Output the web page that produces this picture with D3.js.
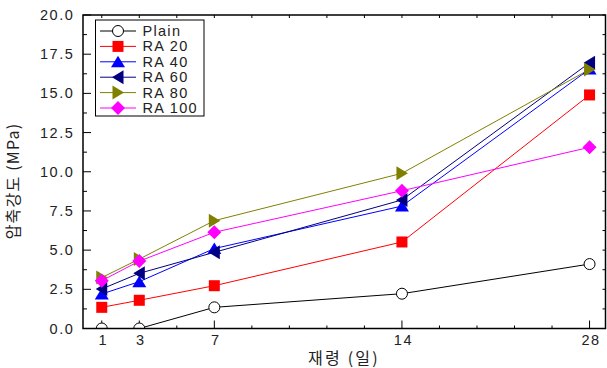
<!DOCTYPE html>
<html><head><meta charset="utf-8">
<script src="https://cdn.jsdelivr.net/npm/d3@7"></script>
<style>body{margin:0;background:#fff;}svg{display:block;}</style>
</head><body>
<svg id="c" width="607" height="368"></svg>
<script>
// categories (age in days) and their position on the drawn axis
const ageLabels = ["1", "3", "7", "14", "28"];
const agePositions = [1, 3, 7, 17, 27];
const yTickLabels = ["0.0","2.5","5.0","7.5","10.0","12.5","15.0","17.5","20.0"];
const seriesNames = ["Plain", "RA 20", "RA 40", "RA 60", "RA 80", "RA 100"];
const plain = [0, 0, 1.35, 2.22, 4.11];
const ra20  = [1.35, 1.8, 2.73, 5.52, 14.9];
const ra40  = [2.2, 2.99, 5.1, 7.81, 16.55];
const ra60  = [2.52, 3.52, 4.86, 8.2, 16.95];
const ra80  = [3.25, 4.43, 6.88, 9.9, 16.53];
const ra100 = [3.05, 4.3, 6.14, 8.79, 11.56];

const seriesValues = [plain, ra20, ra40, ra60, ra80, ra100];
const colors = ["#000000", "#ff0000", "#0000ff", "#000080", "#808000", "#ff00ff"];
const shapes = ["circle", "square", "up", "left", "right", "diamond"];

const svg = d3.select("#c");
const L = 83, R = 605.5, T = 15, B = 328.5;
const x = d3.scaleLinear().domain([0, 27.85]).range([L, R]);
const y = d3.scaleLinear().domain([0, 20]).range([B, T]);
const font = "'Liberation Sans', Arial, 'Noto Sans CJK KR', sans-serif";
const krFont = "'Noto Sans CJK KR', 'DejaVu Sans', sans-serif";

svg.append("defs").append("clipPath").attr("id", "clip")
  .append("rect").attr("x", L).attr("y", T).attr("width", R - L).attr("height", B - T);

// ticks
const g = svg.append("g").attr("stroke", "#000").attr("stroke-width", 1);
const minorX = d3.range(1, 28, 2);
minorX.forEach(v => {
  const major = agePositions.includes(v);
  g.append("line").attr("x1", x(v)).attr("x2", x(v)).attr("y1", B).attr("y2", B - (major ? 8 : 3));
  g.append("line").attr("x1", x(v)).attr("x2", x(v)).attr("y1", T).attr("y2", T + 3);
});
const yVals = d3.range(0, 20.01, 1.25);
yVals.forEach((v, i) => {
  const major = i % 2 === 0;
  g.append("line").attr("x1", L).attr("x2", L + (major ? 8 : 4)).attr("y1", y(v)).attr("y2", y(v));
  g.append("line").attr("x1", R).attr("x2", R - 3).attr("y1", y(v)).attr("y2", y(v));
});

// tick labels
yTickLabels.forEach((t, i) => {
  svg.append("text").attr("x", 74.5).attr("y", y(i * 2.5) + 5).attr("text-anchor", "end")
    .attr("font-family", font).attr("font-size", 14.5).attr("letter-spacing", 1.6).attr("fill", "#222").text(t);
});
ageLabels.forEach((t, i) => {
  svg.append("text").attr("x", x(agePositions[i]) + 1.5).attr("y", 345).attr("text-anchor", "middle")
    .attr("font-family", font).attr("font-size", 14.5).attr("letter-spacing", 1.6).attr("fill", "#222").text(t);
});

// axis titles
svg.append("text").attr("x", 344).attr("y", 364).attr("text-anchor", "middle")
  .attr("font-family", krFont).attr("font-size", 16).attr("letter-spacing", 2.2).attr("fill", "#222").text("재령 (일)");
svg.append("text").attr("transform", "translate(19,181) rotate(-90)").attr("text-anchor", "middle")
  .attr("font-family", krFont).attr("font-size", 16).attr("letter-spacing", 1.2).attr("fill", "#222").text("압축강도 (MPa)");

function drawMarker(sel, shape, color, cx, cy) {
  const s = 6;
  if (shape === "circle") {
    sel.append("circle").attr("cx", cx).attr("cy", cy).attr("r", 5.5).attr("fill", "#fff").attr("stroke", color).attr("stroke-width", 1);
  } else if (shape === "square") {
    sel.append("rect").attr("x", cx - 5.5).attr("y", cy - 5.5).attr("width", 11).attr("height", 11).attr("fill", color);
  } else {
    let pts;
    if (shape === "up") pts = [[0, -s], [s + 1, s - 0.5], [-s - 1, s - 0.5]];
    else if (shape === "left") pts = [[-s, 0], [s - 0.5, -s - 1], [s - 0.5, s + 1]];
    else if (shape === "right") pts = [[s, 0], [-s + 0.5, -s - 1], [-s + 0.5, s + 1]];
    else pts = [[0, -7], [7, 0], [0, 7], [-7, 0]];
    sel.append("polygon").attr("points", pts.map(p => [cx + p[0], cy + p[1]].join(",")).join(" ")).attr("fill", color);
  }
}

// series
const plot = svg.append("g").attr("clip-path", "url(#clip)");
const line = d3.line().x((d, i) => x(agePositions[i])).y(d => y(d));
seriesValues.forEach((vals, si) => {
  plot.append("path").attr("d", line(vals)).attr("fill", "none").attr("stroke", colors[si]).attr("stroke-width", 1);
});
seriesValues.forEach((vals, si) => {
  vals.forEach((v, i) => drawMarker(plot, shapes[si], colors[si], x(agePositions[i]), y(v)));
});

// frame
svg.append("rect").attr("x", L).attr("y", T).attr("width", R - L).attr("height", B - T)
  .attr("fill", "none").attr("stroke", "#000").attr("stroke-width", 1.5);

// legend
const lg = svg.append("g");
lg.append("rect").attr("x", 95.5).attr("y", 20).attr("width", 108.5).attr("height", 96)
  .attr("fill", "#fff").attr("stroke", "#000").attr("stroke-width", 1);
seriesNames.forEach((n, i) => {
  const yy = 31 + i * 15.4;
  lg.append("line").attr("x1", 100).attr("x2", 136).attr("y1", yy).attr("y2", yy).attr("stroke", colors[i]).attr("stroke-width", 1);
  drawMarker(lg, shapes[i], colors[i], 118, yy);
  lg.append("text").attr("x", 142.5).attr("y", yy + 5).attr("font-family", font).attr("font-size", 14.5)
    .attr("letter-spacing", 1.3).attr("fill", "#222").text(n);
});
</script>
</body></html>
